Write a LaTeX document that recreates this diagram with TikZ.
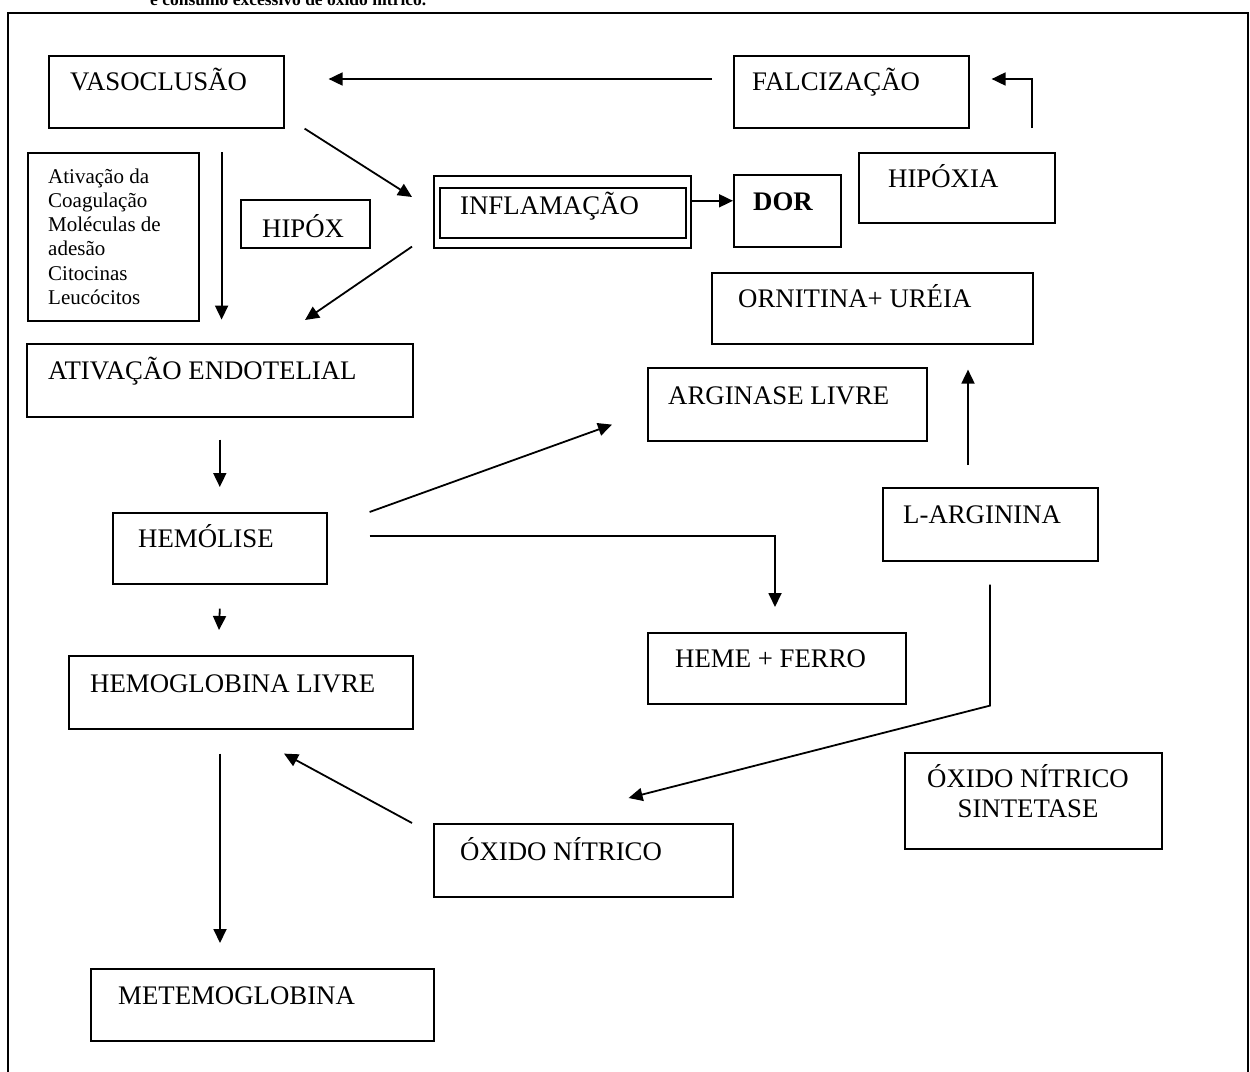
\documentclass[tikz,border=0pt]{standalone}
\usepackage{fontspec}
\setmainfont{Liberation Serif}
\usetikzlibrary{arrows.meta,calc}

\begin{document}
\begin{tikzpicture}[x=1pt,y=-1pt,
    box/.style={draw,line width=1.6pt,anchor=north west,inner sep=0pt},
    txt/.style={anchor=base west,inner sep=0pt,font=\fontsize{26.8}{30}\selectfont},
    arr/.style={line width=1.8pt,-{Triangle[length=14pt,width=13pt]}}]
    \useasboundingbox (0,0) rectangle (1250,1071);
    \fill[white] (0,0) rectangle (1250,1071);
    % frame and the cut caption line
    \draw[line width=2.5pt] (8,13) rectangle (1248,1085);
    \node[anchor=base west,inner sep=0pt,font=\bfseries\fontsize{17.5}{20}\selectfont] (titulo) at (150,5) {e consumo excessivo de óxido nítrico.};

    % boxes
    \node[box,minimum width=235,minimum height=72] (vaso) at (48,55) {};
    \node[txt] (vasoT) at ($(vaso.north west)+(22,35)$) {VASOCLUSÃO};
    \node[box,minimum width=235,minimum height=72] (falc) at (733,55) {};
    \node[txt] (falcT) at ($(falc.north west)+(19,35)$) {FALCIZAÇÃO};
    \node[box,minimum width=171,minimum height=168] (coag) at (27,152) {};
    \node[anchor=base west,inner sep=0pt,font=\fontsize{21}{24.3}\selectfont] (coagT) at ($(coag.north west)+(21,31)$)
      {\begin{tabular}[t]{@{}l@{}}Ativação da\\Coagulação\\Moléculas de\\adesão\\Citocinas\\Leucócitos\end{tabular}};
    \node[box,minimum width=129,minimum height=48] (hipox) at (240,199) {};
    \node[txt] (hipoxT) at ($(hipox.north west)+(22,38)$) {HIPÓX};
    \node[box,minimum width=257,minimum height=72] (infl) at (433,175) {};
    \node[box,minimum width=246,minimum height=50] (inflIn) at (439,187) {};
    \node[txt] (inflT) at ($(infl.north west)+(27,39)$) {INFLAMAÇÃO};
    \node[box,minimum width=107,minimum height=72] (dor) at (733,174) {};
    \node[txt,font=\bfseries\fontsize{26.8}{30}\selectfont] (dorT) at ($(dor.north west)+(20,36)$) {DOR};
    \node[box,minimum width=196,minimum height=70] (hipoxia) at (858,152) {};
    \node[txt] (hipoxiaT) at ($(hipoxia.north west)+(30,35)$) {HIPÓXIA};
    \node[box,minimum width=321,minimum height=71] (orn) at (711,272) {};
    \node[txt] (ornT) at ($(orn.north west)+(27,35)$) {ORNITINA+ URÉIA};
    \node[box,minimum width=386,minimum height=73] (ativ) at (26,343) {};
    \node[txt] (ativT) at ($(ativ.north west)+(22,36)$) {ATIVAÇÃO ENDOTELIAL};
    \node[box,minimum width=279,minimum height=73] (arg) at (647,367) {};
    \node[txt] (argT) at ($(arg.north west)+(21,37)$) {ARGINASE LIVRE};
    \node[box,minimum width=214,minimum height=71] (hemol) at (112,512) {};
    \node[txt] (hemolT) at ($(hemol.north west)+(26,35)$) {HEMÓLISE};
    \node[box,minimum width=215,minimum height=73] (larg) at (882,487) {};
    \node[txt] (largT) at ($(larg.north west)+(21,36)$) {L-ARGININA};
    \node[box,minimum width=258,minimum height=71] (heme) at (647,632) {};
    \node[txt] (hemeT) at ($(heme.north west)+(28,35)$) {HEME + FERRO};
    \node[box,minimum width=344,minimum height=73] (hglob) at (68,655) {};
    \node[txt] (hglobT) at ($(hglob.north west)+(22,37)$) {HEMOGLOBINA LIVRE};
    \node[box,minimum width=257,minimum height=96] (nos) at (904,752) {};
    \node[anchor=base,inner sep=0pt,font=\fontsize{26.8}{30}\selectfont] (nosT) at ($(nos.north west)+(124,35)$)
      {\begin{tabular}[t]{@{}c@{}}ÓXIDO NÍTRICO\\SINTETASE\end{tabular}};
    \node[box,minimum width=299,minimum height=73] (no) at (433,823) {};
    \node[txt] (noT) at ($(no.north west)+(27,37)$) {ÓXIDO NÍTRICO};
    \node[box,minimum width=343,minimum height=72] (metem) at (90,968) {};
    \node[txt] (metemT) at ($(metem.north west)+(28,36)$) {METEMOGLOBINA};

    % arrows
    \draw[arr] ($(falc.north west)+(-21,24)$) -- ($(vaso.north east)+(44,24)$);
    \draw[arr] ($(hipoxia.north west)+(174,-24)$) |- ($(falc.north east)+(22,24)$);
    \draw[arr] ($(vaso.south east)+(20,0)$) -- ($(infl.north west)+(-21,22)$);
    \draw[arr] ($(coag.north east)+(22,0)$) -- ($(coag.south east)+(22,-2)$);
    \draw[arr] ($(infl.south west)+(-21,-2)$) -- ($(ativ.north west)+(279,-23)$);
    \draw[arr] ($(infl.east)+(0,-11)$) -- ($(dor.west)+(0,-10)$);
    \draw[arr] ($(larg.north west)+(86,-22)$) -- ($(orn.south west)+(257,25)$);
    \draw[arr] ($(ativ.south)+(0,22)$) -- ($(hemol.north)+(0,-25)$);
    \draw[arr] ($(hemol.north east)+(42,0)$) -- ($(arg.south west)+(-35,-17)$);
    \draw[arr] ($(hemol.north east)+(42,24)$) -| ($(heme.north west)+(128,-25)$);
    \draw[arr] ($(hemol.south)+(0,24)$) -- ($(hglob.north west)+(151,-25)$);
    \draw[arr] ($(larg.south west)+(108,23)$) -- ++(0,121) -- ($(no.north east)+(-105,-25)$);
    \draw[arr] ($(no.north west)+(-21,0)$) -- ($(hglob.south west)+(216,24)$);
    \draw[arr] ($(hglob.south west)+(152,24)$) -- ($(metem.north west)+(130,-25)$);
\end{tikzpicture}
\end{document}
